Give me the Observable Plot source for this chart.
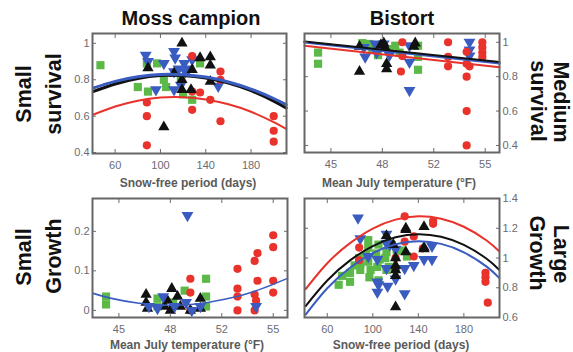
<!DOCTYPE html>
<html><head><meta charset="utf-8">
<script src="https://cdn.jsdelivr.net/npm/d3@7"></script>
<script src="https://cdn.jsdelivr.net/npm/@observablehq/plot@0.6"></script>
<style>
body{margin:0;background:#fff;}
#chart{position:relative;width:573px;height:352px;overflow:hidden;font-family:"Liberation Sans",Arial,sans-serif;background:#fff;}
.panel{position:absolute;}
.ylab{position:absolute;font-weight:bold;font-size:21.5px;line-height:1;color:#111;white-space:nowrap;}
.xlab{position:absolute;font-weight:bold;font-size:12px;line-height:1;color:#5a5a5a;white-space:nowrap;transform:translate(-50%,-50%);}
.title{position:absolute;top:8px;font-weight:bold;font-size:20px;line-height:20px;color:#111;white-space:nowrap;transform:translateX(-50%);}
</style></head><body><div id="chart"></div>
<script>
// ---- tick values / labels ----
const dayTicks = [60, 100, 140, 180];
const dayTickLabels = ["60", "100", "140", "180"];
const tempTickPos = [44.6, 48.2, 51.8, 55.4];
const tempTickLabels = ["45", "48", "52", "55"];
const survTicks = [0.4, 0.6, 0.8, 1];
const survTickLabels = ["0.4", "0.6", "0.8", "1"];
const smallGrowthTicks = [0, 0.1, 0.2];
const smallGrowthTickLabels = ["0", "0.1", "0.2"];
const largeGrowthTicks = [0.6, 0.8, 1, 1.2, 1.4];
const largeGrowthTickLabels = ["0.6", "0.8", "1", "1.2", "1.4"];

// ---- Moss campion: small survival vs snow-free period (days) ----
const tlGreen = [[47,0.88],[80,0.76],[88,0.89],[97,0.89],[89,0.735],[103,0.80],[105,0.76],[118,0.80],[128,0.69],[135,0.89],[120,0.72]];
const tlBlue = [[87,0.935],[89,0.90],[96,0.745],[112,0.955],[113,0.92],[103,0.89],[112,0.745],[121,0.89],[122,0.845],[128,0.91],[112,0.845],[118,0.77],[151,0.765],[116,0.86],[125,0.86]];
const tlBlack = [[89,0.865],[103,0.54],[119,1.0],[135,0.92],[144,0.925],[144,0.88],[127,0.745],[119,0.80],[144,0.79],[112,0.835],[128,0.855],[119,0.745]];
const tlRed = [[88,0.675],[88,0.60],[88,0.44],[128,0.93],[128,0.735],[128,0.635],[135,0.73],[144,0.69],[153,0.845],[153,0.80],[153,0.572],[200,0.60],[200,0.52],[200,0.46]];
const fitDays = [41, 60, 80, 100, 120, 140, 160, 180, 200, 211];
const tlFitRed = [0.609,0.653,0.685,0.702,0.704,0.692,0.665,0.624,0.567,0.530];
const tlFitBlack = [0.736,0.777,0.807,0.823,0.824,0.810,0.782,0.740,0.683,0.645];
const tlFitBlue = [0.755,0.791,0.816,0.829,0.828,0.815,0.788,0.749,0.697,0.663];

// ---- Bistort: medium survival vs mean July temperature (°F) ----
const trGreen = [[43.7,0.94],[43.7,0.875],[46.8,0.995],[47.3,0.99],[47.5,0.96],[47.9,0.925],[48.7,0.96],[49.1,0.98],[49.4,0.94],[50.7,0.98],[50.7,0.915],[50.7,0.84]];
const trBlue = [[46.9,0.97],[47.0,0.915],[47.7,0.99],[48.0,0.975],[47.8,0.94],[48.3,0.99],[48.7,0.925],[50.1,0.98],[50.1,0.885],[50.1,0.72],[54.3,1.0],[54.3,0.955],[54.3,0.92]];
const trBlack = [[46.6,0.83],[46.6,0.975],[48.3,0.995],[48.4,0.97],[48.5,0.875],[48.5,0.845],[50.5,0.995],[50.4,0.975],[48.1,0.985]];
const trRed = [[49.6,1.0],[49.6,0.92],[49.5,0.83],[52.8,1.0],[52.8,0.915],[52.8,0.86],[54.1,0.945],[54.1,0.875],[54.3,0.86],[54.1,0.80],[54.1,0.60],[54.1,0.40],[55.2,1.0],[55.2,0.97],[55.2,0.94],[55.2,0.915]];
const fitTempEnds = [42.75, 56.4];
const trFitRed = [0.98, 0.855];
const trFitBlue = [1.0, 0.878];
const trFitBlack = [1.005, 0.885];

// ---- Moss campion: small growth vs mean July temperature (°F) ----
const blGreen = [[43.7,0.035],[43.7,0.015],[47.3,0.03],[47.3,0.01],[48.4,0.02],[49.2,0.05],[50.7,0.08],[50.7,0.035],[50.7,0.01]];
const blBlack = [[46.5,0.04],[46.5,0.02],[46.6,0.005],[47.8,0.01],[48.0,0.025],[48.3,0.055],[48.2,0.0],[48.7,0.035],[48.9,0.01],[50.3,0.03],[50.3,0.005],[49.6,0.0]];
const blBlue = [[49.4,0.24],[46.7,0.01],[47.3,0.005],[47.7,0.035],[48.5,0.01],[49.3,0.02],[49.7,0.0],[50.3,0.01],[54.2,0.01]];
const blRed = [[49.6,0.08],[49.6,0.045],[49.6,0.0],[52.9,0.105],[52.9,0.055],[52.9,0.035],[52.9,0.0],[54.1,0.125],[54.3,0.145],[54.3,0.075],[54.1,0.04],[54.2,0.025],[54.1,0.0],[55.4,0.19],[55.4,0.16],[55.4,0.075],[55.4,0.045]];
const fitTemps = [42.8, 44, 46, 48, 50, 52, 54, 56.4];
const blFitBlue = [0.043,0.031,0.018,0.013,0.016,0.028,0.047,0.081];

// ---- Bistort: large growth vs snow-free period (days) ----
const brGreen = [[70,0.82],[73,0.88],[80,0.90],[84,0.95],[89,0.92],[89,0.96],[94,1.02],[96,1.12],[96,1.07],[96,0.975],[98,0.92],[97,0.87],[104,0.94],[105,1.09],[105,0.85],[106,0.99],[111,1.0],[112,1.04],[112,0.92],[114,0.94],[121,1.05],[126,1.05],[130,1.01],[88,1.0],[80,0.84],[103,1.03]];
const brBlue = [[87,1.27],[89,1.13],[96,1.01],[104,0.99],[104,0.84],[104,0.77],[105,0.82],[112,1.16],[112,1.10],[112,0.93],[113,0.81],[120,1.06],[120,0.92],[120,0.86],[128,0.93],[128,0.76],[136,0.95],[145,0.99],[152,1.08],[152,0.99],[115,1.09]];
const brBlack = [[112,1.15],[118,1.09],[120,1.0],[120,0.95],[120,0.92],[120,0.88],[120,0.67],[129,1.19],[129,1.2],[129,1.04],[145,1.21],[145,1.07],[145,1.06]];
const brRed = [[88,1.07],[88,0.985],[120,1.0],[128,1.28],[128,1.11],[136,1.145],[136,1.01],[144,1.065],[153,1.25],[153,1.23],[199,0.90],[199,0.87],[199,0.84],[201,0.70]];
const brFitRed = [0.791,0.965,1.10,1.198,1.258,1.28,1.264,1.21,1.118,1.045];
const brFitBlack = [0.677,0.849,0.984,1.080,1.139,1.16,1.143,1.088,0.995,0.921];
const brFitBlue = [0.62,0.797,0.934,1.033,1.092,1.113,1.095,1.038,0.942,0.866];

// ---- styles ----
const RED = "#e8322b", GREEN = "#5cb947", BLUE = "#3a5cc0", BLACK = "#111111";
const TICKCOL = "#6b6b72", FRAMECOL = "#666666";

const chart = document.getElementById("chart");

function pts(arr){ return arr.map(([x,y]) => ({x, y})); }
function fit(xs, ys){ return xs.map((x,i) => ({x, y: ys[i]})); }

function panel(o){
  const ml = o.yRight ? 4 : 34, mr = o.yRight ? 34 : 4, mt = 4, mb = 26;
  const w = o.fx[1]-o.fx[0], h = o.fy[1]-o.fy[0];
  const marks = [];
  const sym = {
    green: {symbol:"square", r:4.6, fill:GREEN},
    blue: {symbol:"triangle", r:4.4, fill:BLUE, rotate:180},
    red: {symbol:"circle", r:4.1, fill:RED},
    black: {symbol:"triangle", r:4.2, fill:BLACK}
  };
  for (const [key, data] of o.series) {
    marks.push(Plot.dot(pts(data), {x:"x", y:"y", ...sym[key]}));
  }
  for (const [xs, ys, color, sw] of o.fits) {
    marks.push(Plot.line(fit(xs, ys), {x:"x", y:"y", stroke:color, strokeWidth:sw, curve:"natural"}));
  }
  const xf = d => o.xLabels[o.xTicks.indexOf(d)] ?? "";
  const yf = d => o.yLabels[o.yTicks.indexOf(d)] ?? "";
  marks.push(Plot.axisX({anchor:"bottom", ticks:o.xTicks, tickFormat:xf, tickSize:-4, tickPadding:12, label:null, fontSize:11, color:TICKCOL}));
  marks.push(Plot.axisX({anchor:"top", ticks:o.xTicks, tickFormat:()=>"", tickSize:-4, label:null, color:TICKCOL}));
  marks.push(Plot.axisY({anchor:o.yRight?"right":"left", ticks:o.yTicks, tickFormat:yf, tickSize:-4, tickPadding:7, label:null, fontSize:11, color:TICKCOL}));
  marks.push(Plot.axisY({anchor:o.yRight?"left":"right", ticks:o.yTicks, tickFormat:()=>"", tickSize:-4, label:null, color:TICKCOL}));
  marks.push(Plot.frame({stroke:FRAMECOL, strokeWidth:2}));
  const svg = Plot.plot({
    width: w+ml+mr, height: h+mt+mb,
    marginLeft: ml, marginRight: mr, marginTop: mt, marginBottom: mb,
    x: {type:"linear", domain:o.xDomain},
    y: {type:"linear", domain:o.yDomain},
    style: {fontFamily:'"Liberation Sans", Arial, sans-serif', background:"transparent", overflow:"visible"},
    marks
  });
  svg.classList.add("panel");
  svg.style.left = (o.fx[0]-ml) + "px";
  svg.style.top = (o.fy[0]-mt) + "px";
  chart.appendChild(svg);
}

const dayDomain = [40, 211.3];
const tempDomain = [42.75, 56.4];

panel({fx:[92,286], fy:[33,153], xDomain:dayDomain, yDomain:[0.395,1.054],
  xTicks:dayTicks, xLabels:dayTickLabels, yTicks:survTicks, yLabels:survTickLabels, yRight:false,
  series:[["green",tlGreen],["blue",tlBlue],["red",tlRed],["black",tlBlack]],
  fits:[[fitDays,tlFitRed,RED,2],[fitDays,tlFitBlack,BLACK,3],[fitDays,tlFitBlue,BLUE,3]]});

panel({fx:[304,499], fy:[33,152], xDomain:tempDomain, yDomain:[0.359,1.051],
  xTicks:tempTickPos, xLabels:tempTickLabels, yTicks:survTicks, yLabels:survTickLabels, yRight:true,
  series:[["green",trGreen],["blue",trBlue],["red",trRed],["black",trBlack]],
  fits:[[fitTempEnds,trFitRed,RED,2],[fitTempEnds,trFitBlue,BLUE,2.5],[fitTempEnds,trFitBlack,BLACK,2]]});

panel({fx:[92,287], fy:[198,317], xDomain:tempDomain, yDomain:[-0.018,0.283],
  xTicks:tempTickPos, xLabels:tempTickLabels, yTicks:smallGrowthTicks, yLabels:smallGrowthTickLabels, yRight:false,
  series:[["green",blGreen],["red",blRed],["black",blBlack],["blue",blBlue]],
  fits:[[fitTemps,blFitBlue,BLUE,1.6]]});

panel({fx:[304,499], fy:[198,317], xDomain:dayDomain, yDomain:[0.6,1.4],
  xTicks:dayTicks, xLabels:dayTickLabels, yTicks:largeGrowthTicks, yLabels:largeGrowthTickLabels, yRight:true,
  series:[["green",brGreen],["blue",brBlue],["red",brRed],["black",brBlack]],
  fits:[[fitDays,brFitRed,RED,2],[fitDays,brFitBlack,BLACK,2],[fitDays,brFitBlue,BLUE,2]]});

// ---- text ----
function addY(text, cx, cy, rot){
  const d = document.createElement("div");
  d.className = "ylab"; d.textContent = text;
  d.style.left = cx + "px"; d.style.top = cy + "px";
  d.style.transform = `translate(-50%,-50%) rotate(${rot}deg)`;
  chart.appendChild(d);
}
function addX(text, cx, cy){
  const d = document.createElement("div");
  d.className = "xlab"; d.textContent = text;
  d.style.left = cx + "px"; d.style.top = cy + "px";
  chart.appendChild(d);
}
const titles = [["Moss campion", 191], ["Bistort", 402]];
for (const [t, cx] of titles) {
  const s = document.createElement("div"); s.className = "title"; s.textContent = t; s.style.left = cx + "px"; chart.appendChild(s);
}

addY("Small", 25, 94, -90); addY("survival", 55, 94, -90);
addY("survival", 537, 101, 90); addY("Medium", 560, 102, 90);
addY("Small", 25, 257, -90); addY("Growth", 55, 256, -90);
addY("Growth", 536, 253, 90); addY("Large", 560, 254, 90);

addX("Snow-free period (days)", 188, 183);
addX("Mean July temperature (°F)", 399, 183);
addX("Mean July temperature (°F)", 187, 345);
addX("Snow-free period (days)", 401, 345);
</script></body></html>
